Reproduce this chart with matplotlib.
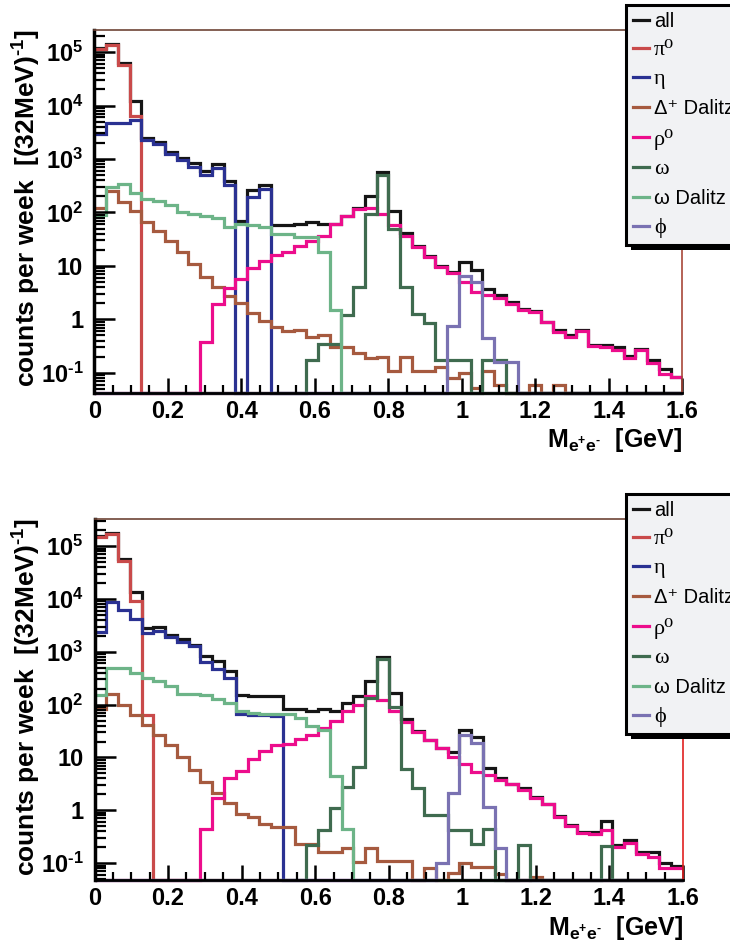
import numpy as np
import matplotlib
matplotlib.use("Agg")
import matplotlib.pyplot as plt
from matplotlib.ticker import FixedLocator, MultipleLocator, NullFormatter, FuncFormatter
from matplotlib.lines import Line2D
from matplotlib.patches import Rectangle

plt.rcParams['font.family'] = ['Liberation Sans', 'DejaVu Sans']
plt.rcParams['mathtext.fontset'] = 'custom'
plt.rcParams['mathtext.rm'] = 'Liberation Sans:bold'
plt.rcParams['mathtext.bf'] = 'Liberation Sans:bold'
plt.rcParams['mathtext.it'] = 'Liberation Sans:bold'
plt.rcParams['mathtext.default'] = 'rm'

# ---------------- data ----------------
N_BINS = 50
BIN_WIDTH = 0.032  # GeV
edges = np.arange(N_BINS + 1) * BIN_WIDTH

labels = ["all", "π⁰", "η", "Δ⁺ Dalitz", "ρ⁰", "ω", "ω Dalitz", "ϕ"]
colors = ['#151515', '#c94a4a', '#2a3192', '#a65a3f', '#ec0d8c', '#3f6b4f', '#6db488', '#7a72b2']
serif_labels = {"π⁰", "η", "ρ⁰", "ω", "ϕ"}

# top panel
all_top = [1.2e5, 1.4e5, 6.3e4, 1.2e4, 2450, 2040, 1370, 1030, 840, 600,
           800, 390, 69, 263, 325, 57, 57, 60, 67, 60,
           61, 86, 120, 207, 580, 108, 41, 23.5, 15, 10,
           7.6, 11.6, 8.2, 3.65, 2.8, 2.1, 1.56, 1.45, 0.9, 0.63,
           0.51, 0.62, 0.33, 0.33, 0.31, 0.21, 0.28, 0.17, 0.116, 0.085]
pi0_top = [1.15e5, 1.36e5, 5.8e4, 6500, 0, 0, 0, 0, 0, 0,
           0, 0, 0, 0, 0, 0, 0, 0, 0, 0,
           0, 0, 0, 0, 0, 0, 0, 0, 0, 0,
           0, 0, 0, 0, 0, 0, 0, 0, 0, 0,
           0, 0, 0, 0, 0, 0, 0, 0, 0, 0]
eta_top = [2900, 4700, 4800, 5400, 2300, 1880, 1260, 960, 720, 500,
           690, 320, 0, 197, 275, 0, 0, 0, 0, 0,
           0, 0, 0, 0, 0, 0, 0, 0, 0, 0,
           0, 0, 0, 0, 0, 0, 0, 0, 0, 0,
           0, 0, 0, 0, 0, 0, 0, 0, 0, 0]
delta_top = [120, 252, 160, 106, 67, 45, 29, 18.5, 10.7, 6.1,
             4.0, 2.7, 2.05, 1.3, 0.94, 0.73, 0.6, 0.63, 0.47, 0.52,
             0.31, 0.31, 0.23, 0.19, 0.2, 0.11, 0.2, 0.11, 0.11, 0.13,
             0.079, 0.097, 0.051, 0.11, 0.058, 0, 0, 0.059, 0, 0.059,
             0, 0, 0, 0, 0, 0, 0, 0, 0, 0]
rho_top = [0, 0, 0, 0, 0, 0, 0, 0, 0, 0.38,
           1.9, 3.9, 5.8, 9.0, 12.3, 16, 18, 24, 29, 37,
           60, 86, 118, 120, 92, 58, 37, 23, 14.5, 9.4,
           7.3, 5.0, 3.3, 2.9, 2.5, 1.9, 1.5, 1.35, 0.88, 0.57,
           0.47, 0.6, 0.32, 0.30, 0.27, 0.19, 0.27, 0.15, 0.094, 0.082]
omega_top = [0, 0, 0, 0, 0, 0, 0, 0, 0, 0,
             0, 0, 0, 0, 0, 0, 0, 0, 0.17, 0.34,
             0.34, 1.2, 4.1, 92, 500, 50, 4.0, 1.25, 0.84, 0.17,
             0.17, 0.17, 0, 0.17, 0.17, 0, 0, 0, 0, 0,
             0, 0, 0, 0, 0, 0, 0, 0, 0, 0]
omegad_top = [89, 295, 336, 230, 177, 163, 138, 103, 95, 85,
              78, 53, 60, 57, 53, 40, 39, 34, 34, 18.5,
              1.5, 0, 0, 0, 0, 0, 0, 0, 0, 0,
              0, 0, 0, 0, 0, 0, 0, 0, 0, 0,
              0, 0, 0, 0, 0, 0, 0, 0, 0, 0]
phi_top = [0, 0, 0, 0, 0, 0, 0, 0, 0, 0,
           0, 0, 0, 0, 0, 0, 0, 0, 0, 0,
           0, 0, 0, 0, 0, 0, 0, 0, 0, 0,
           0.75, 6.6, 5.0, 0.44, 0.16, 0.16, 0, 0, 0, 0,
           0, 0, 0, 0, 0, 0, 0, 0, 0, 0]

# bottom panel
all_bot = [1.55e5, 1.8e5, 5.8e4, 1.35e4, 2800, 2900, 2100, 1730, 1370, 820,
           660, 425, 155, 145, 145, 145, 84, 84, 76, 81,
           75, 105, 145, 275, 800, 166, 53, 32, 21, 15,
           12.7, 33, 24, 6.3, 4.0, 3.2, 2.6, 1.75, 1.3, 0.77,
           0.52, 0.38, 0.38, 0.64, 0.22, 0.27, 0.16, 0.165, 0.1, 0.089]
pi0_bot = [1.49e5, 1.73e5, 5.2e4, 9100, 63, 0, 0, 0, 0, 0,
           0, 0, 0, 0, 0, 0, 0, 0, 0, 0,
           0, 0, 0, 0, 0, 0, 0, 0, 0, 0,
           0, 0, 0, 0, 0, 0, 0, 0, 0, 0,
           0, 0, 0, 0, 0, 0, 0, 0, 0, 0]
eta_bot = [2370, 8700, 6100, 4100, 2300, 2500, 1900, 1530, 1260, 630,
           480, 320, 66, 63, 63, 61, 0, 0, 0, 0,
           0, 0, 0, 0, 0, 0, 0, 0, 0, 0,
           0, 0, 0, 0, 0, 0, 0, 0, 0, 0,
           0, 0, 0, 0, 0, 0, 0, 0, 0, 0]
delta_bot = [84, 160, 97, 63, 42, 27, 17, 10.2, 5.9, 3.4,
             2.1, 1.38, 0.86, 0.75, 0.54, 0.48, 0.48, 0.23, 0.23, 0.16,
             0.16, 0.19, 0.105, 0.19, 0.11, 0.11, 0.11, 0, 0.08, 0,
             0.065, 0.1, 0.085, 0.085, 0.063, 0, 0, 0.055, 0, 0,
             0, 0, 0, 0, 0, 0, 0, 0, 0, 0]
rho_bot = [0, 0, 0, 0, 0, 0, 0, 0, 0, 0.45,
           1.7, 4.0, 5.5, 9.2, 13, 17, 18, 22, 27, 36,
           50, 76, 100, 144, 120, 76, 47, 30, 21, 15,
           10.2, 7.4, 5.3, 4.6, 3.7, 3.1, 2.4, 1.7, 1.3, 0.76,
           0.5, 0.37, 0.36, 0.42, 0.2, 0.24, 0.15, 0.13, 0.08, 0.08]
omega_bot = [0, 0, 0, 0, 0, 0, 0, 0, 0, 0,
             0, 0, 0, 0, 0, 0, 0, 0, 0.22, 0.42,
             1.1, 2.8, 6.6, 134, 720, 90, 6.1, 2.6, 0.83, 0.83,
             0.43, 0.43, 0.23, 0.44, 0, 0, 0.22, 0, 0, 0,
             0, 0, 0, 0.21, 0, 0, 0, 0, 0, 0]
omegad_bot = [150, 500, 500, 400, 325, 275, 225, 160, 160, 155,
              130, 107, 75, 70, 66, 66, 65, 56, 40, 33,
              4.4, 0.45, 0, 0, 0, 0, 0, 0, 0, 0,
              0, 0, 0, 0, 0, 0, 0, 0, 0, 0,
              0, 0, 0, 0, 0, 0, 0, 0, 0, 0]
phi_bot = [0, 0, 0, 0, 0, 0, 0, 0, 0, 0,
           0, 0, 0, 0, 0, 0, 0, 0, 0, 0,
           0, 0, 0, 0, 0, 0, 0, 0, 0, 0.1,
           2.1, 27, 19, 1.15, 0.19, 0, 0, 0, 0, 0,
           0, 0, 0, 0, 0, 0, 0, 0, 0, 0]

top_series = [all_top, pi0_top, eta_top, delta_top, rho_top, omega_top, omegad_top, phi_top]
bot_series = [all_bot, pi0_bot, eta_bot, delta_bot, rho_bot, omega_bot, omegad_bot, phi_bot]

x_ticks = [0, 0.2, 0.4, 0.6, 0.8, 1.0, 1.2, 1.4, 1.6]
y_ticks = [1e-1, 1, 10, 1e2, 1e3, 1e4, 1e5]

# ---------------- figure ----------------
W, H = 730, 943
fig = plt.figure(figsize=(W / 100, H / 100), dpi=100)


def px_axes(x0, y0, x1, y1):
    return fig.add_axes([x0 / W, 1 - y1 / H, (x1 - x0) / W, (y1 - y0) / H])


def ylab_fmt(v, pos):
    e = int(round(np.log10(v)))
    if e == 0:
        return '1'
    if e == 1:
        return '10'
    if e < 0:
        return r'$10^{\text{-}%d}$' % (-e)
    return r'$10^{%d}$' % e


def draw_panel(ax, series, ymin, ymax, right_color):
    for vals, col in zip(series, colors):
        v = np.asarray(vals, float)
        v = np.where(v > 0, v, ymin)
        ax.stairs(v, edges, baseline=None, color=col, lw=2.3, clip_on=False)
    ax.set_yscale('log')
    ax.set_xlim(0, 1.6)
    ax.set_ylim(ymin, ymax)
    ax.yaxis.set_major_locator(FixedLocator(y_ticks))
    minors = [m * 10.0 ** e for e in range(-2, 6) for m in range(2, 10)]
    ax.yaxis.set_minor_locator(FixedLocator(minors))
    ax.yaxis.set_minor_formatter(NullFormatter())
    ax.yaxis.set_major_formatter(FuncFormatter(ylab_fmt))
    ax.xaxis.set_major_locator(FixedLocator(x_ticks))
    ax.xaxis.set_minor_locator(MultipleLocator(0.05))
    ax.xaxis.set_major_formatter(FuncFormatter(lambda v, p: f'{v:g}'))
    ax.tick_params(axis='y', which='major', direction='in', length=15, width=1.8,
                   labelsize=17, pad=8, right=False)
    ax.tick_params(axis='y', which='minor', direction='in', length=8, width=1.6, right=False)
    ax.tick_params(axis='x', which='major', direction='in', length=11, width=1.8,
                   labelsize=17, pad=5, top=False)
    ax.tick_params(axis='x', which='minor', direction='in', length=6, width=1.6, top=False)
    for lab in ax.get_xticklabels() + ax.get_yticklabels():
        lab.set_fontweight('bold')
    ax.spines['left'].set_linewidth(2.5)
    ax.spines['bottom'].set_linewidth(2.0)
    ax.spines['top'].set_linewidth(1.2)
    ax.spines['top'].set_color('#6e4436')
    ax.spines['right'].set_linewidth(1.2)
    ax.spines['right'].set_color(right_color)
    ax.set_facecolor('white')


panels = [
    dict(series=top_series, box=(94.3, 30.0, 682.3, 392.7), ymin=0.0424, ymax=2.59e5,
         right='#a8483a', leg_top=5.0, xlab_base=446.7),
    dict(series=bot_series, box=(94.5, 518.7, 683.0, 880.3), ymin=0.0473, ymax=3.3e5,
         right='#e02020', leg_top=494.0, xlab_base=934.5),
]

legends = []
for p in panels:
    x0, y0, x1, y1 = p['box']
    ax = px_axes(x0, y0, x1, y1)
    draw_panel(ax, p['series'], p['ymin'], p['ymax'], p['right'])

    fig.text(27 / W, 1 - (y0 - 1) / H, r'counts per week  [(32MeV)$^{\text{-}1}$]', rotation=90,
             ha='center', va='top', fontsize=19, fontweight='bold')
    fig.text(x1 / W, 1 - p['xlab_base'] / H, r'M$_{\mathrm{e}^{+}\mathrm{e}^{\text{-}}}$  [GeV]',
             ha='right', va='baseline', fontsize=18, fontweight='bold')

    handles = [Line2D([], [], color=c, lw=2.3) for c in colors]
    leg = fig.legend(handles, labels, loc='upper left',
                     bbox_to_anchor=(625.7 / W, 1 - p['leg_top'] / H),
                     bbox_transform=fig.transFigure, fontsize=14.5, frameon=True,
                     fancybox=False, edgecolor='black', facecolor='#f1f2f4',
                     framealpha=1, borderaxespad=0, handlelength=0.8,
                     handletextpad=0.25, labelspacing=0.5, borderpad=0.35)
    leg.get_frame().set_linewidth(2.2)
    leg.set_zorder(10)
    for t in leg.get_texts():
        if t.get_text() in serif_labels:
            t.set_fontfamily(['Liberation Serif', 'DejaVu Serif'])
            t.set_fontsize(16)
    legends.append(leg)

fig.canvas.draw()
for leg in legends:
    bb = leg.get_window_extent()
    shadow = Rectangle((bb.x0 + 5, bb.y0 - 5), bb.width, bb.height, transform=None,
                       facecolor='black', edgecolor='none', zorder=9)
    fig.add_artist(shadow)

fig.savefig('out.png', dpi=100)
